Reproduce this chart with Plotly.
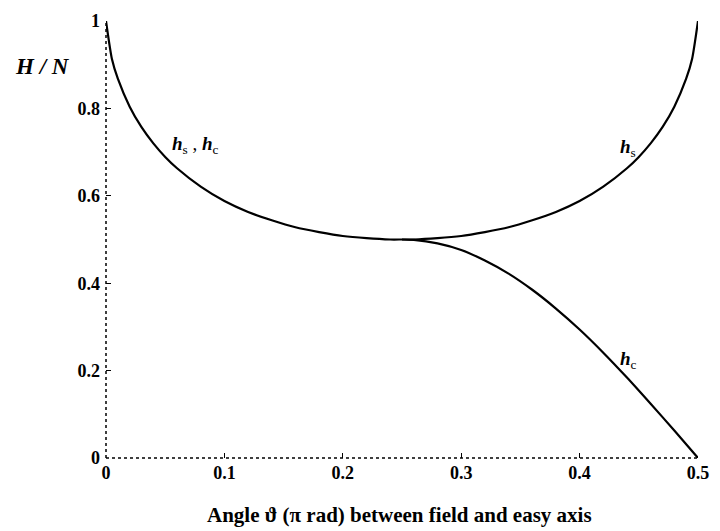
import plotly.graph_objects as go

# angle in units of pi rad
theta_s = [0, 0.005, 0.01, 0.02, 0.03, 0.04, 0.05, 0.06, 0.08, 0.10, 0.12, 0.14, 0.16,
           0.18, 0.20, 0.22, 0.24, 0.25, 0.26, 0.28, 0.30, 0.32, 0.34, 0.36, 0.38,
           0.40, 0.42, 0.44, 0.45, 0.46, 0.47, 0.48, 0.49, 0.495, 0.5]
h_s = [1.0, 0.913, 0.868, 0.804, 0.757, 0.720, 0.689, 0.663, 0.621, 0.588, 0.563, 0.544, 0.528,
       0.517, 0.508, 0.503, 0.500, 0.500, 0.500, 0.503, 0.508, 0.517, 0.528, 0.544, 0.563,
       0.588, 0.621, 0.663, 0.689, 0.720, 0.757, 0.804, 0.868, 0.913, 1.0]

theta_c = [0.25, 0.26, 0.28, 0.30, 0.32, 0.34, 0.36, 0.38, 0.40, 0.42, 0.44, 0.46, 0.48, 0.50]
h_c = [0.500, 0.499, 0.491, 0.476, 0.452, 0.422, 0.385, 0.342, 0.294, 0.241, 0.184, 0.124, 0.063, 0.0]

x_ticks = [0, 0.1, 0.2, 0.3, 0.4, 0.5]
x_ticklabels = ["0", "0.1", "0.2", "0.3", "0.4", "0.5"]
y_ticks = [0, 0.2, 0.4, 0.6, 0.8, 1]
y_ticklabels = ["0", "0.2", "0.4", "0.6", "0.8", "1"]

SERIF = "Liberation Serif, Times New Roman, serif"

fig = go.Figure()
fig.add_trace(go.Scatter(x=theta_s, y=h_s, mode="lines", line=dict(color="black", width=2.2, shape="spline", smoothing=0.6),
                         cliponaxis=False, showlegend=False, hoverinfo="skip"))
fig.add_trace(go.Scatter(x=theta_c, y=h_c, mode="lines", line=dict(color="black", width=2.2, shape="spline", smoothing=0.6),
                         cliponaxis=False, showlegend=False, hoverinfo="skip"))

axis_common = dict(showgrid=False, zeroline=False, showline=False, ticks="inside", ticklen=5,
                   tickwidth=1.2, tickcolor="black", ticklabeloverflow="allow",
                   tickfont=dict(family=SERIF, size=18, color="black", weight="bold"))

fig.update_xaxes(range=[0, 0.5], tickvals=x_ticks, ticktext=x_ticklabels, ticklabelstandoff=2, **axis_common)
fig.update_yaxes(range=[0, 1], tickvals=y_ticks, ticktext=y_ticklabels, ticklabelstandoff=5, **axis_common)

# dotted axis lines
fig.add_shape(type="line", xref="paper", yref="paper", x0=0, x1=1, y0=0, y1=0,
              line=dict(color="black", width=1.5, dash="dot"))
fig.add_shape(type="line", xref="paper", yref="paper", x0=0, x1=0, y0=0, y1=1,
              line=dict(color="black", width=1.5, dash="dot"))

fig.add_annotation(xref="paper", yref="paper", x=-0.108, y=0.895, xanchor="center", yanchor="middle",
                   text="<b><i>H / N</i></b>",
                   showarrow=False, font=dict(family=SERIF, size=23, color="black"))
fig.add_annotation(xref="x", yref="y", x=0.0755, y=0.716,
                   text="<b><i>h</i></b><sub>s</sub> , <b><i>h</i></b><sub>c</sub>",
                   showarrow=False, font=dict(family=SERIF, size=19, color="black"))
fig.add_annotation(xref="x", yref="y", x=0.441, y=0.709, text="<b><i>h</i></b><sub>s</sub>",
                   showarrow=False, font=dict(family=SERIF, size=19, color="black"))
fig.add_annotation(xref="x", yref="y", x=0.441, y=0.224, text="<b><i>h</i></b><sub>c</sub>",
                   showarrow=False, font=dict(family=SERIF, size=19, color="black"))
fig.add_annotation(xref="paper", yref="paper", x=0.496, y=-0.130, xanchor="center", yanchor="middle",
                   text="<b>Angle \u03d1 (\u03c0 rad) between field and easy axis</b>",
                   showarrow=False, font=dict(family=SERIF, size=21, color="black"))

fig.update_layout(width=720, height=531, margin=dict(l=106, r=11, t=20, b=73),
                  plot_bgcolor="white", paper_bgcolor="white")

fig.write_html("out.html")
